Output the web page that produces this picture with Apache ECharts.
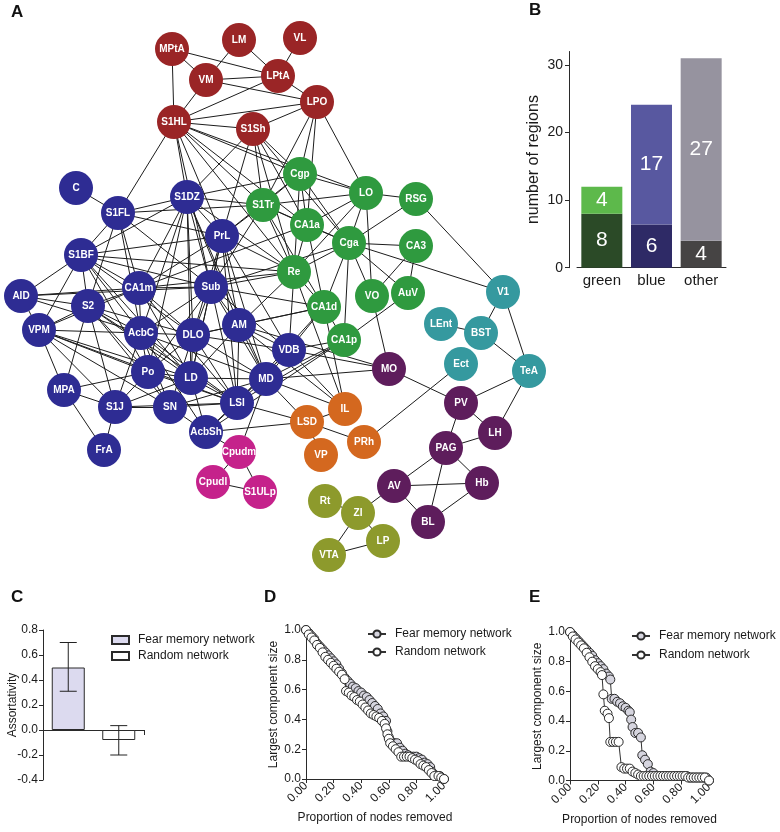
<!DOCTYPE html>
<html><head><meta charset="utf-8">
<script src="https://cdn.jsdelivr.net/npm/echarts@6/dist/echarts.min.js"></script>
<style>html,body{margin:0;padding:0;background:#fff}#c{width:780px;height:832px}</style>
</head><body><div id="c"></div>
<script>
// ---------- Panel A: network (node layout positions) ----------
const redNodes = [['MPtA',172,49],['LM',239,40],['VL',300,38],['VM',206,80],['LPtA',278,76],['LPO',317,102],['S1HL',174,122],['S1Sh',253,129]];
const greenNodes = [['Cgp',300,174],['LO',366,193],['RSG',416,199],['S1Tr',263,205],['CA1a',307,225],['Cga',349,243],['CA3',416,246],['Re',294,272],['VO',372,296],['AuV',408,293],['CA1d',324,307],['CA1p',344,340]];
const blueNodes = [['C',76,188],['S1FL',118,213],['S1DZ',187,197],['PrL',222,236],['S1BF',81,255],['CA1m',139,288],['Sub',211,287],['AID',21,296],['S2',88,306],['VPM',39,330],['AcbC',141,333],['DLO',193,335],['AM',239,325],['VDB',289,350],['MD',266,379],['Po',148,372],['LD',191,378],['MPA',64,390],['S1J',115,407],['SN',170,407],['LSI',237,403],['AcbSh',206,432],['FrA',104,450]];
const magentaNodes = [['Cpudm',239,452],['Cpudl',213,482],['S1ULp',260,492]];
const orangeNodes = [['IL',345,409],['LSD',307,422],['PRh',364,442],['VP',321,455]];
const purpleNodes = [['MO',389,369],['PV',461,403],['LH',495,433],['PAG',446,448],['Hb',482,483],['AV',394,486],['BL',428,522]];
const tealNodes = [['V1',503,292],['LEnt',441,324],['BST',481,333],['Ect',461,364],['TeA',529,371]];
const oliveNodes = [['Rt',325,501],['ZI',358,513],['LP',383,541],['VTA',329,555]];

const edges = [
['MPtA','VM'],['MPtA','LPtA'],['MPtA','S1HL'],['LM','VM'],['LM','LPtA'],['VL','LPtA'],['VM','LPtA'],['VM','LPO'],['VM','S1HL'],['LPtA','LPO'],['LPtA','S1HL'],['S1HL','LPO'],['S1HL','S1Sh'],['S1Sh','LPO'],
['S1HL','S1FL'],['S1HL','S1DZ'],['S1HL','PrL'],['S1HL','Sub'],['S1HL','S1Tr'],['S1HL','CA1a'],['S1HL','Re'],['S1HL','Cgp'],['S1HL','LO'],
['S1Sh','S1DZ'],['S1Sh','S1Tr'],['S1Sh','Cgp'],['S1Sh','CA1a'],['S1Sh','Re'],['S1Sh','Cga'],['S1Sh','PrL'],
['LPO','Cgp'],['LPO','S1Tr'],['LPO','LO'],['LPO','CA1a'],
['Cgp','S1Tr'],['Cgp','LO'],['Cgp','CA1a'],['Cgp','Cga'],['Cgp','Re'],['Cgp','S1DZ'],['Cgp','PrL'],
['LO','RSG'],['LO','Cga'],['LO','VO'],['LO','S1Tr'],['LO','CA1a'],['LO','Re'],
['RSG','V1'],['RSG','Cga'],
['S1Tr','CA1a'],['S1Tr','Cga'],['S1Tr','Re'],['S1Tr','S1DZ'],['S1Tr','PrL'],['S1Tr','Sub'],['S1Tr','CA1d'],['S1Tr','S1FL'],
['CA1a','Cga'],['CA1a','Re'],['CA1a','CA1d'],['CA1a','CA1m'],
['Cga','CA3'],['Cga','VO'],['Cga','AuV'],['Cga','Re'],['Cga','CA1d'],['Cga','CA1p'],['Cga','V1'],['Cga','Sub'],
['CA3','AuV'],['CA3','VO'],
['Re','CA1d'],['Re','Sub'],['Re','PrL'],['Re','S1DZ'],['Re','CA1m'],['Re','S1BF'],['Re','AM'],['Re','VDB'],
['VO','MO'],['AuV','CA1p'],
['CA1d','CA1p'],['CA1d','AM'],['CA1d','LSI'],['CA1d','VDB'],['CA1d','DLO'],
['CA1p','VDB'],['CA1p','MD'],['CA1p','LSI'],['CA1p','AcbSh'],
['V1','BST'],['V1','TeA'],['LEnt','BST'],['BST','TeA'],['Ect','PRh'],['TeA','PV'],['TeA','LH'],
['MO','PV'],['PV','LH'],['PV','PAG'],['PAG','LH'],['PAG','Hb'],['PAG','AV'],['PAG','BL'],['AV','Hb'],['AV','BL'],['BL','Hb'],
['MO','VDB'],['MO','MD'],['MO','AM'],
['Rt','ZI'],['ZI','LP'],['ZI','VTA'],['VTA','LP'],['ZI','AV'],
['Cpudm','Cpudl'],['Cpudm','S1ULp'],['Cpudl','S1ULp'],['Cpudm','MD'],['Cpudm','AcbSh'],
['IL','LSD'],['LSD','PRh'],['LSD','VP'],['IL','MD'],['IL','VDB'],['IL','AM'],['IL','Re'],['IL','CA1d'],['LSD','MD'],['LSD','LSI'],['LSD','AcbSh'],
['C','S1FL'],
['S1FL','S1DZ'],['S1FL','S1BF'],['S1FL','CA1m'],['S1FL','PrL'],['S1FL','Sub'],['S1FL','S2'],['S1FL','AcbC'],
['S1DZ','PrL'],['S1DZ','Sub'],['S1DZ','CA1m'],['S1DZ','DLO'],['S1DZ','AcbC'],['S1DZ','LD'],['S1DZ','AM'],['S1DZ','S1BF'],['S1DZ','Po'],['S1DZ','MD'],
['PrL','Sub'],['PrL','CA1m'],['PrL','AM'],['PrL','DLO'],['PrL','LD'],['PrL','MD'],['PrL','S1BF'],['PrL','VDB'],['PrL','LSI'],
['S1BF','AID'],['S1BF','S2'],['S1BF','VPM'],['S1BF','CA1m'],['S1BF','Sub'],['S1BF','AcbC'],['S1BF','Po'],['S1BF','LD'],['S1BF','DLO'],
['CA1m','Sub'],['CA1m','S2'],['CA1m','AcbC'],['CA1m','VPM'],['CA1m','AID'],['CA1m','DLO'],['CA1m','LD'],['CA1m','LSI'],
['Sub','DLO'],['Sub','AM'],['Sub','AcbC'],['Sub','LD'],['Sub','MD'],['Sub','VDB'],['Sub','Po'],['Sub','CA1d'],['Sub','LSI'],['Sub','AID'],
['AID','S2'],['AID','VPM'],['AID','AcbC'],
['S2','VPM'],['S2','AcbC'],['S2','Po'],['S2','LD'],['S2','SN'],['S2','S1J'],['S2','LSI'],['S2','DLO'],['S2','MPA'],
['VPM','AcbC'],['VPM','Po'],['VPM','S1J'],['VPM','LD'],['VPM','SN'],['VPM','LSI'],['VPM','MPA'],
['AcbC','DLO'],['AcbC','Po'],['AcbC','LD'],['AcbC','SN'],['AcbC','LSI'],['AcbC','AcbSh'],['AcbC','MD'],['AcbC','S1J'],
['DLO','AM'],['DLO','LD'],['DLO','Po'],['DLO','LSI'],['DLO','MD'],['DLO','VDB'],['DLO','SN'],
['AM','MD'],['AM','VDB'],['AM','LSI'],['AM','LD'],
['VDB','MD'],['VDB','LSI'],['VDB','AcbSh'],
['MD','LSI'],['MD','LD'],['MD','SN'],
['Po','LD'],['Po','S1J'],['Po','SN'],['Po','MPA'],['Po','LSI'],
['LD','SN'],['LD','LSI'],['LD','AcbSh'],['LD','S1J'],
['MPA','S1J'],['MPA','FrA'],
['S1J','SN'],['S1J','FrA'],['S1J','LSI'],
['SN','LSI'],['SN','AcbSh'],
['LSI','AcbSh']
];

// ---------- Panel B ----------
const bCategories = ['green','blue','other'];
const bDark = [8, 6.4, 4];
const bLight = [4, 17.7, 27];
const bDarkLabels = ['8','6','4'];
const bLightLabels = ['4','17','27'];
const bTicks = [0, 10, 20, 30];

// ---------- Panel C ----------
const legendNames = ['Fear memory network','Random network'];
const cCategories = ['Fear memory network','Random network'];
const cMeans = [0.50, -0.08];
const cErrLow = [0.31, -0.20];
const cErrHigh = [0.70, 0.035];

// ---------- Panel D ----------
const dFear = [[0,1.0],[0.02,0.98],[0.04,0.96],[0.06,0.94],[0.08,0.91],[0.10,0.89],[0.12,0.87],[0.14,0.85],[0.16,0.83],[0.18,0.81],[0.20,0.79],[0.22,0.77],[0.24,0.74],[0.26,0.71],[0.28,0.68],[0.30,0.66],[0.32,0.64],[0.34,0.62],[0.36,0.61],[0.38,0.59],[0.40,0.58],[0.42,0.56],[0.44,0.55],[0.46,0.53],[0.48,0.51],[0.50,0.49],[0.52,0.47],[0.54,0.44],[0.56,0.42],[0.58,0.39],[0.59,0.32],[0.60,0.28],[0.62,0.25],[0.64,0.24],[0.66,0.24],[0.68,0.21],[0.70,0.19],[0.72,0.17],[0.74,0.16],[0.76,0.15],[0.78,0.15],[0.80,0.15],[0.82,0.14],[0.84,0.13],[0.86,0.11],[0.88,0.10],[0.90,0.08],[0.91,0.05],[0.93,0.03],[0.95,0.02],[0.97,0.02],[1.0,0]];
const dRandom = [[0,1.0],[0.02,0.97],[0.04,0.95],[0.06,0.93],[0.08,0.90],[0.10,0.88],[0.12,0.85],[0.14,0.82],[0.16,0.80],[0.18,0.78],[0.20,0.76],[0.22,0.74],[0.24,0.72],[0.26,0.70],[0.28,0.67],[0.29,0.59],[0.31,0.58],[0.33,0.56],[0.35,0.55],[0.37,0.53],[0.39,0.52],[0.41,0.50],[0.43,0.48],[0.45,0.46],[0.47,0.44],[0.49,0.43],[0.51,0.42],[0.53,0.41],[0.55,0.39],[0.57,0.37],[0.58,0.34],[0.59,0.30],[0.60,0.27],[0.61,0.24],[0.63,0.22],[0.65,0.20],[0.67,0.18],[0.69,0.15],[0.71,0.15],[0.73,0.15],[0.75,0.15],[0.77,0.14],[0.79,0.13],[0.81,0.12],[0.83,0.10],[0.85,0.09],[0.87,0.08],[0.89,0.06],[0.91,0.04],[0.93,0.02],[0.96,0.02],[0.98,0.01],[1.0,0]];

// ---------- Panel E ----------
const eFear = [[0,1.0],[0.02,0.98],[0.04,0.96],[0.06,0.94],[0.08,0.92],[0.10,0.90],[0.12,0.88],[0.14,0.86],[0.16,0.84],[0.18,0.81],[0.20,0.79],[0.22,0.77],[0.24,0.75],[0.26,0.72],[0.28,0.70],[0.29,0.68],[0.30,0.55],[0.32,0.55],[0.34,0.53],[0.36,0.52],[0.38,0.50],[0.40,0.49],[0.42,0.47],[0.43,0.46],[0.44,0.41],[0.45,0.36],[0.47,0.32],[0.49,0.32],[0.51,0.29],[0.52,0.17],[0.54,0.14],[0.56,0.11],[0.58,0.06],[0.60,0.05],[0.62,0.03],[0.64,0.03],[0.66,0.03],[0.68,0.03],[0.70,0.03],[0.72,0.03],[0.74,0.03],[0.76,0.03],[0.78,0.03],[0.80,0.03],[0.82,0.03],[0.84,0.03],[0.86,0.02],[0.88,0.02],[0.90,0.02],[0.92,0.02],[0.94,0.02],[0.96,0.02],[0.98,0.02],[1.0,0]];
const eRandom = [[0,1.0],[0.02,0.97],[0.04,0.95],[0.06,0.93],[0.08,0.91],[0.10,0.89],[0.12,0.86],[0.14,0.83],[0.16,0.80],[0.18,0.77],[0.20,0.75],[0.22,0.73],[0.23,0.71],[0.24,0.58],[0.25,0.47],[0.27,0.45],[0.28,0.42],[0.29,0.26],[0.31,0.26],[0.33,0.26],[0.35,0.26],[0.37,0.09],[0.39,0.08],[0.41,0.08],[0.43,0.08],[0.45,0.06],[0.47,0.05],[0.49,0.04],[0.51,0.03],[0.53,0.03],[0.55,0.03],[0.57,0.03],[0.59,0.03],[0.61,0.03],[0.63,0.03],[0.65,0.03],[0.67,0.03],[0.69,0.03],[0.71,0.03],[0.73,0.03],[0.75,0.03],[0.77,0.03],[0.79,0.03],[0.81,0.03],[0.83,0.03],[0.85,0.02],[0.87,0.02],[0.89,0.02],[0.91,0.02],[0.93,0.02],[0.95,0.02],[0.97,0.02],[1.0,0]];

// ---------- build ----------
const FONT = 'Liberation Sans, Arial, Helvetica, sans-serif';
const TXT = '#1a1a1a';
const AX = '#2a2a2a';
const groups = [
  [redNodes,'#9a2526'],[greenNodes,'#2f9a3f'],[blueNodes,'#2e2c93'],[magentaNodes,'#c5228b'],
  [orangeNodes,'#d4681f'],[purpleNodes,'#5e1d5c'],[tealNodes,'#35999f'],[oliveNodes,'#8d9a2c']
];
const graphData = [];
groups.forEach(([arr,col]) => arr.forEach(n => graphData.push({name:n[0], value:[n[1],n[2]], itemStyle:{color:col}})));
const graphLinks = edges.map(e => ({source:e[0], target:e[1]}));

const fmt1 = v => Math.abs(v) < 1e-9 ? '0.0' : v.toFixed(1);
const fmt2 = v => Math.abs(v) < 1e-9 ? '0.00' : v.toFixed(2);
const axLine = {show:true, onZero:false, lineStyle:{color:AX, width:1}};
const axTick = {show:true, length:4, lineStyle:{color:AX, width:1}};
const lab = (sz) => ({color:TXT, fontSize:sz, fontFamily:FONT});
const titleStyle = {fontSize:17, fontWeight:'bold', fontFamily:FONT, color:'#111'};

const chart = echarts.init(document.getElementById('c'));
const option = {
  animation:false,
  backgroundColor:'#ffffff',
  title:[
    {text:'A', left:11, top:4, padding:0, textStyle:titleStyle},
    {text:'B', left:529, top:2, padding:0, textStyle:titleStyle},
    {text:'C', left:11, top:589, padding:0, textStyle:titleStyle},
    {text:'D', left:264, top:589, padding:0, textStyle:titleStyle},
    {text:'E', left:529, top:589, padding:0, textStyle:titleStyle}
  ],
  grid:[
    {left:0, top:0, width:780, height:832},
    {left:577, top:51.5, width:149, height:216.2},
    {left:43, top:630, width:101, height:150},
    {left:306, top:630, width:138, height:149},
    {left:570, top:632, width:139, height:148.5}
  ],
  xAxis:[
    {gridIndex:0, type:'value', min:0, max:780, show:false},
    {gridIndex:1, type:'category', data:bCategories, axisLine:{show:true, lineStyle:{color:AX}}, axisTick:{show:false}, axisLabel:Object.assign({margin:6, interval:0}, lab(15))},
    {gridIndex:2, type:'category', data:cCategories, axisLine:{show:true, onZero:true, lineStyle:{color:AX}}, axisTick:{show:true, length:5, lineStyle:{color:AX}}, axisLabel:{show:false}},
    {gridIndex:3, type:'value', min:0, max:1, interval:0.2, axisLine:axLine, axisTick:axTick, splitLine:{show:false},
      axisLabel:Object.assign({rotate:45, margin:5, formatter:fmt2}, lab(12)),
      name:'Proportion of nodes removed', nameLocation:'middle', nameGap:33, nameMoveOverlap:false, nameTextStyle:lab(12)},
    {gridIndex:4, type:'value', min:0, max:1, interval:0.2, axisLine:axLine, axisTick:axTick, splitLine:{show:false},
      axisLabel:Object.assign({rotate:45, margin:5, formatter:fmt2}, lab(12)),
      name:'Proportion of nodes removed', nameLocation:'middle', nameGap:33, nameMoveOverlap:false, nameTextStyle:lab(12)}
  ],
  yAxis:[
    {gridIndex:0, type:'value', min:0, max:832, inverse:true, show:false},
    {gridIndex:1, type:'value', min:0, max:32, offset:8, axisLine:axLine, splitLine:{show:false},
      axisTick:Object.assign({customValues:bTicks}, axTick),
      axisLabel:Object.assign({customValues:bTicks, margin:6}, lab(14)),
      name:'number of regions', nameLocation:'middle', nameGap:27, nameMoveOverlap:false, nameTextStyle:lab(16)},
    {gridIndex:2, type:'value', min:-0.4, max:0.8, interval:0.2, axisLine:axLine, axisTick:axTick, splitLine:{show:false},
      axisLabel:Object.assign({formatter:fmt1, margin:5}, lab(12)),
      name:'Assortativity', nameLocation:'middle', nameGap:24, nameMoveOverlap:false, nameTextStyle:lab(12)},
    {gridIndex:3, type:'value', min:0, max:1, interval:0.2, axisLine:axLine, axisTick:axTick, splitLine:{show:false},
      axisLabel:Object.assign({formatter:fmt1, margin:5}, lab(12)),
      name:'Largest component size', nameLocation:'middle', nameGap:26, nameMoveOverlap:false, nameTextStyle:lab(12)},
    {gridIndex:4, type:'value', min:0, max:1, interval:0.2, axisLine:axLine, axisTick:axTick, splitLine:{show:false},
      axisLabel:Object.assign({formatter:fmt1, margin:5}, lab(12)),
      name:'Largest component size', nameLocation:'middle', nameGap:26, nameMoveOverlap:false, nameTextStyle:lab(12)}
  ],
  legend:[
    {left:111, top:634, padding:0, orient:'vertical', icon:'rect', itemWidth:17, itemHeight:8, itemGap:4, selectedMode:false,
      data:legendNames.map(n => n + ' '), formatter:n => n.trim(),
      textStyle:Object.assign({padding:[0,0,0,4]}, lab(12))},
    {left:367, top:628, padding:0, orient:'vertical', itemWidth:18, itemHeight:9, itemGap:6, selectedMode:false,
      data:legendNames, textStyle:Object.assign({padding:[0,0,0,4]}, lab(12))},
    {left:631, top:630, padding:0, orient:'vertical', itemWidth:18, itemHeight:9, itemGap:7, selectedMode:false,
      data:legendNames, textStyle:Object.assign({padding:[0,0,0,4]}, lab(12))}
  ],
  series:[
    {type:'graph', coordinateSystem:'cartesian2d', xAxisIndex:0, yAxisIndex:0, layout:'none',
      symbol:'circle', symbolSize:34, data:graphData, links:graphLinks,
      lineStyle:{color:'#1c1c1c', width:1, opacity:1, curveness:0},
      label:{show:true, position:'inside', formatter:'{b}', color:'#ffffff', fontWeight:'bold', fontSize:10, fontFamily:FONT},
      emphasis:{disabled:true}, silent:true},
    {type:'bar', name:'bDark', xAxisIndex:1, yAxisIndex:1, stack:'b', data:bDark, barWidth:41,
      itemStyle:{color:(p)=>['#2b4a27','#2e2a66','#464444'][p.dataIndex]},
      label:{show:true, position:'inside', formatter:p => bDarkLabels[p.dataIndex], color:'#ffffff', fontSize:21, fontFamily:FONT}},
    {type:'bar', name:'bLight', xAxisIndex:1, yAxisIndex:1, stack:'b', data:bLight, barWidth:41,
      itemStyle:{color:(p)=>['#5db94b','#5858a0','#96939f'][p.dataIndex]},
      label:{show:true, position:'inside', formatter:p => bLightLabels[p.dataIndex], color:'#ffffff', fontSize:21, fontFamily:FONT}},
    {type:'bar', name:legendNames[0] + ' ', xAxisIndex:2, yAxisIndex:2, data:[cMeans[0], '-'], barWidth:33, barGap:'-100%',
      itemStyle:{color:'#dcdaef', borderColor:'#2a2a2a', borderWidth:1}},
    {type:'bar', name:legendNames[1] + ' ', xAxisIndex:2, yAxisIndex:2, data:['-', cMeans[1]], barWidth:33, barGap:'-100%',
      itemStyle:{color:'#ffffff', borderColor:'#2a2a2a', borderWidth:1}},
    {type:'custom', xAxisIndex:2, yAxisIndex:2, z:5,
      data:cMeans.map((m,i) => [i, cErrLow[i], cErrHigh[i]]),
      renderItem:(params, api) => {
        const lo = api.coord([api.value(0), api.value(1)]);
        const hi = api.coord([api.value(0), api.value(2)]);
        const x = lo[0], hw = 8.5;
        const st = {stroke:'#222', lineWidth:1};
        return {type:'group', children:[
          {type:'line', shape:{x1:x, y1:lo[1], x2:x, y2:hi[1]}, style:st},
          {type:'line', shape:{x1:x-hw, y1:lo[1], x2:x+hw, y2:lo[1]}, style:st},
          {type:'line', shape:{x1:x-hw, y1:hi[1], x2:x+hw, y2:hi[1]}, style:st}
        ]};
      }},
    {type:'line', name:legendNames[0], xAxisIndex:3, yAxisIndex:3, data:dFear, symbol:'circle', symbolSize:9, showAllSymbol:true,
      lineStyle:{color:'#333', width:1}, itemStyle:{color:'#d6d5df', borderColor:'#2a2a2a', borderWidth:1}},
    {type:'line', name:legendNames[1], xAxisIndex:3, yAxisIndex:3, data:dRandom, symbol:'circle', symbolSize:9, showAllSymbol:true,
      lineStyle:{color:'#333', width:1}, itemStyle:{color:'#ffffff', borderColor:'#2a2a2a', borderWidth:1}},
    {type:'line', name:legendNames[0], xAxisIndex:4, yAxisIndex:4, data:eFear, symbol:'circle', symbolSize:9, showAllSymbol:true,
      lineStyle:{color:'#333', width:1}, itemStyle:{color:'#d6d5df', borderColor:'#2a2a2a', borderWidth:1}},
    {type:'line', name:legendNames[1], xAxisIndex:4, yAxisIndex:4, data:eRandom, symbol:'circle', symbolSize:9, showAllSymbol:true,
      lineStyle:{color:'#333', width:1}, itemStyle:{color:'#ffffff', borderColor:'#2a2a2a', borderWidth:1}}
  ]
};
chart.setOption(option);
</script>
</body></html>
